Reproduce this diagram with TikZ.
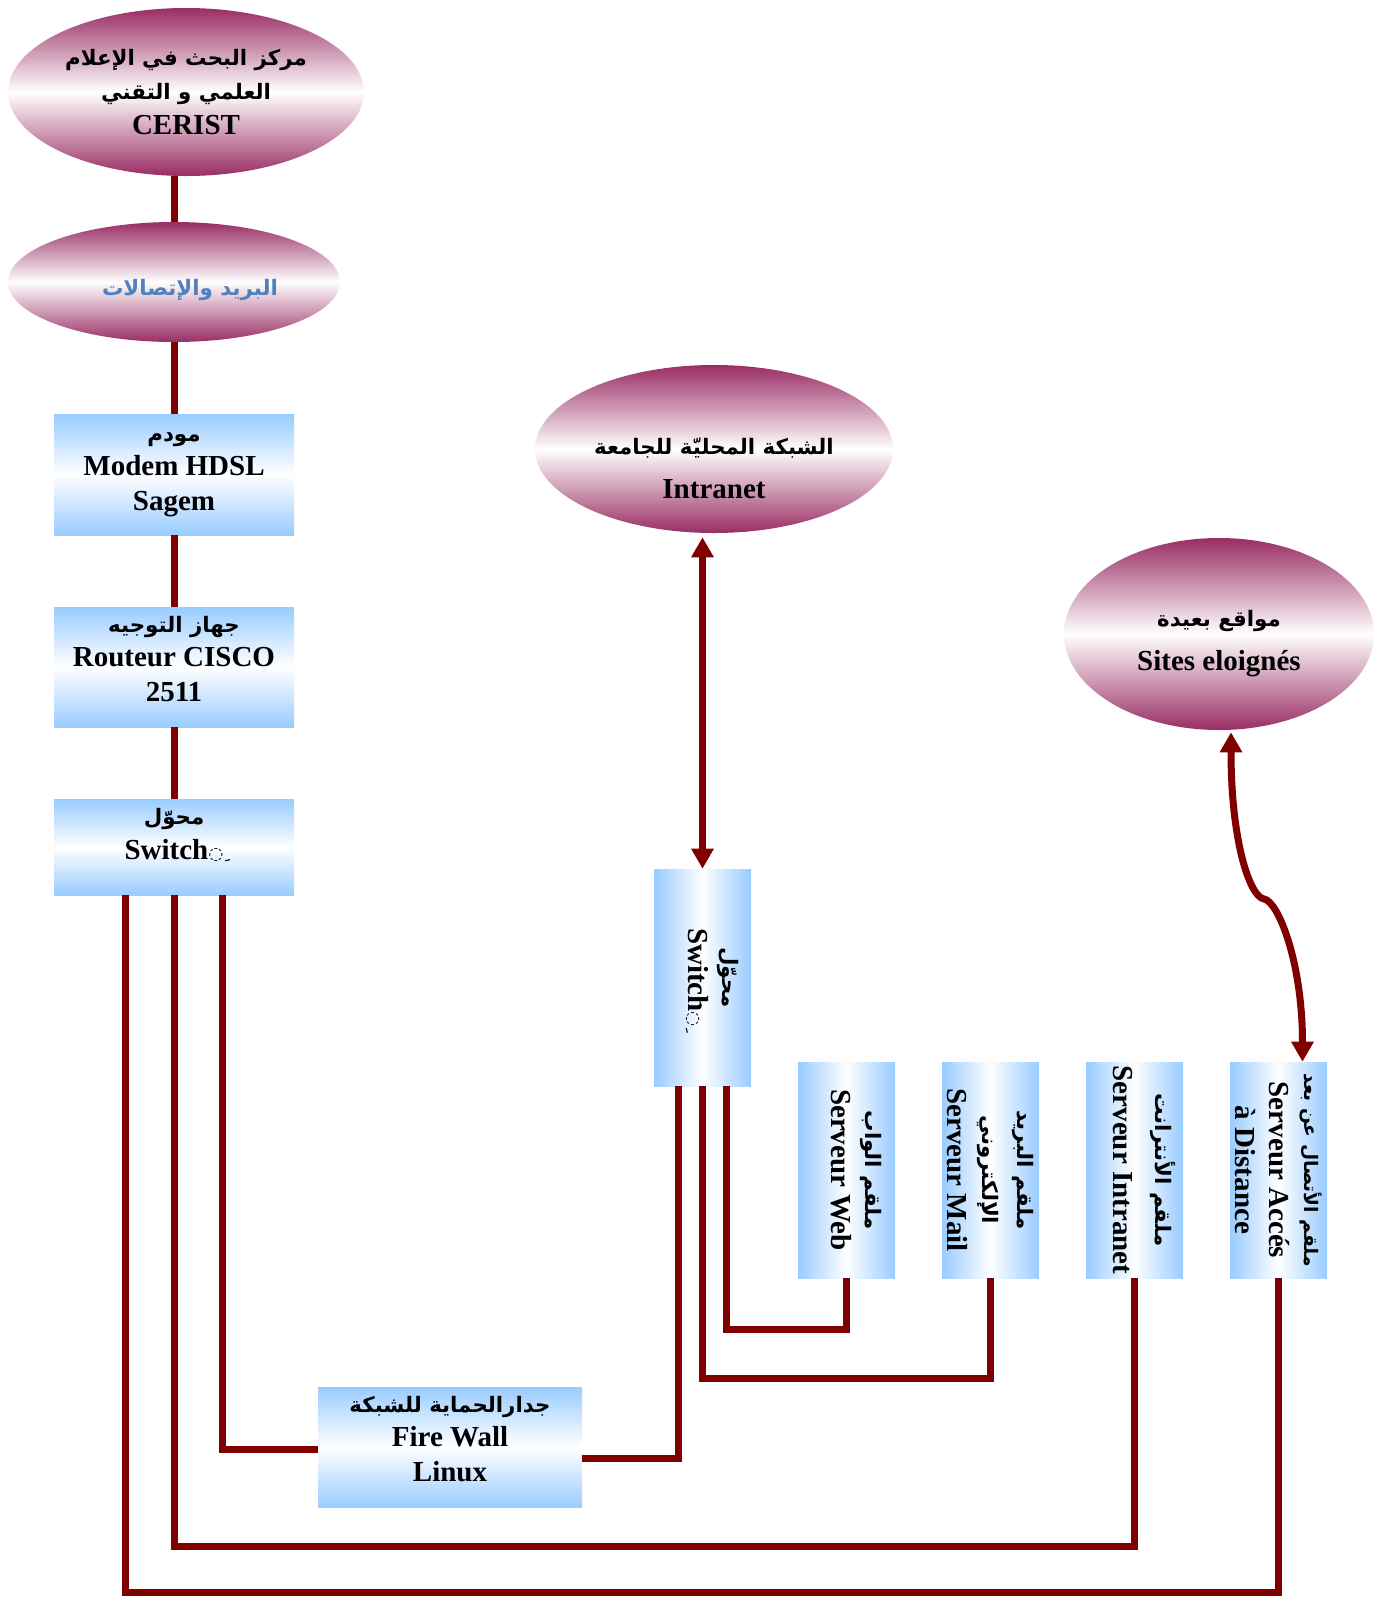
\documentclass[tikz,border=0pt]{standalone}
\usepackage{fontspec}
\setmainfont{Liberation Serif}[BoldFont={Liberation Serif Bold}]
\newfontfamily\arfont[Script=Arabic]{DejaVu Sans}
\newfontfamily\djvfont{DejaVu Sans}
\TeXXeTstate=1
\usetikzlibrary{shapes.geometric,arrows.meta,calc}
\definecolor{plum}{RGB}{153,45,100}
\definecolor{skyb}{RGB}{153,204,255}
\definecolor{wirered}{RGB}{128,0,0}
\definecolor{postblue}{RGB}{79,129,189}
\newcommand{\artxt}[1]{{\arfont\bfseries\fontsize{16}{20}\selectfont\beginR #1\endR}}
\newcommand{\artxtsm}[1]{{\arfont\bfseries\fontsize{14}{18}\selectfont\beginR #1\endR}}
\newcommand{\kasramark}{{\djvfont\fontsize{13}{13}\selectfont ◌ِ}}
\begin{document}
\begin{tikzpicture}[x=0.75pt,y=-0.75pt,
  lbl/.style={font=\fontsize{21.75}{26}\selectfont\bfseries, align=center},
  txt/.style={lbl, inner sep=0pt},
  oval/.style={ellipse, inner sep=0pt, top color=plum, bottom color=plum, middle color=white, lbl},
  hbox/.style={rectangle, inner sep=0pt, top color=skyb, bottom color=skyb, middle color=white, lbl, minimum width=180pt},
  vbox/.style={rectangle, inner sep=0pt, left color=skyb, right color=skyb, middle color=white, minimum width=72.75pt, minimum height=162pt},
  vlbl/.style={lbl, rotate=-90, inner sep=0pt},
  link/.style={draw=wirered, line width=5.25pt, line join=miter},
  dbl/.style={{Triangle[width=16pt,length=15pt]}-{Triangle[width=16pt,length=15pt]}}
]
\useasboundingbox (0,0) rectangle (1383,1597);

% ovals
\node[oval, minimum width=267pt, minimum height=126pt] (cerist) at (186,92)
  {\artxt{مركز البحث في الإعلام}\\\artxt{العلمي و التقني}\\CERIST};
\node[oval, minimum width=249pt, minimum height=90pt] (post) at (174,282) {};
\node[txt] (postt) at (190,290) {\textcolor{postblue}{\artxt{البريد والإتصالات}}};
\node[oval, minimum width=268.5pt, minimum height=126pt] (intranet) at (714,449) {};
\node[txt] (intranett) at (714,468) {\artxt{الشبكة المحليّة للجامعة}\\[7pt]Intranet};
\node[oval, minimum width=232.5pt, minimum height=144pt] (sites) at (1219,634) {};
\node[txt] (sitest) at (1219,644) {\artxt{مواقع بعيدة}\\[7pt]Sites eloignés};

% horizontal boxes
\node[hbox, minimum height=90.75pt] (modem) at (174,474.5)
  {\artxt{مودم}\\Modem HDSL\\Sagem};
\node[hbox, minimum height=90pt] (router) at (174,667) {};
\node[txt] (routert) at (174,659) {\artxt{جهاز التوجيه}\\Routeur CISCO\\2511};
\node[hbox, minimum height=72pt] (sw1) at (174,847) {};
\node[txt] (sw1t) at (174,835) {\artxt{محوّل}\\Switch\kasramark};
\node[hbox, minimum width=198pt, minimum height=90pt] (fw) at (450,1447) {};
\node[txt] (fwt) at (450,1439) {\artxt{جدارالحماية للشبكة}\\Fire Wall\\Linux};

% vertical boxes
\node[vbox, minimum height=162.75pt] (sw2) at (702.5,977.5) {};
\node[vlbl] (sw2t) at (712.5,977.5) {\artxt{محوّل}\\Switch\kasramark};
\node[vbox] (web) at (846.5,1170) {};
\node[vlbl] (webt) at (856.5,1170) {\artxt{ملقم الواب}\\Serveur Web};
\node[vbox] (mail) at (990.5,1170) {};
\node[vlbl] (mailt) at (mail) {\artxt{ملقم البريد}\\\artxt{الإلكتروني}\\Serveur Mail};
\node[vbox] (isrv) at (1134.5,1170) {};
\node[vlbl] (isrvt) at (1144.5,1170) {\artxt{ملقم الأنترانت}\\[6pt]Serveur Intranet};
\node[vbox] (acc) at (1278.5,1170) {};
\node[vlbl] (acct) at (acc) {\artxtsm{ملقم الأتصال عن بعد}\\Serveur Accés\\à Distance};

% bus levels
\coordinate (busB) at (0,1546);
\coordinate (busC) at (0,1592);
\coordinate (busM) at (0,1378);
\coordinate (busW) at (0,1329);
\coordinate (kink) at (1264,899);

% vertical chain
\draw[link] (post.north |- cerist.south) -- (post.north);
\draw[link] (post.south) -- (modem.north);
\draw[link] (modem.south) -- (router.north);
\draw[link] (router.south) -- (sw1.north);

% from switch 1
\draw[link] ($(sw1.south)+(48,0)$) |- ($(fw.west)+(0,2)$);
\draw[link] (sw1.south) -- (sw1.south |- busB) -| (isrv.south);
\draw[link] ($(sw1.south)+(-49,0)$) coordinate (c0) -- (c0 |- busC) -| (acc.south);

% firewall to switch 2
\draw[link] ($(fw.east)+(0,11)$) -| ($(sw2.south)+(-24.5,0)$);

% switch 2 to servers
\draw[link] (sw2.south) -- (sw2.south |- busM) -| (mail.south);
\draw[link] ($(sw2.south)+(24,0)$) coordinate (w0) -- (w0 |- busW) -| (web.south);

% arrows
\draw[link, dbl] ($(sw2.north |- intranet.south)+(0,4)$) -- (sw2.north);
\draw[link, dbl] ($(sites.south)+(12,2)$) .. controls +(0,110) and +(-14,-2) .. (kink)
  .. controls +(14,2) and +(0,-100) .. ($(acc.north)+(24,0)$);
\end{tikzpicture}
\end{document}
